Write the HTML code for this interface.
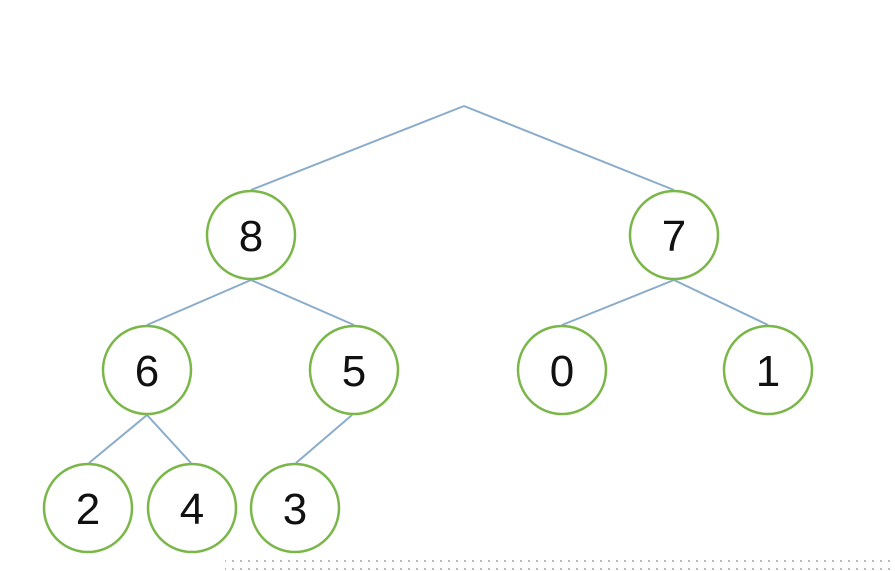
<!DOCTYPE html>
<html><head><style>body{margin:0;background:#fff}svg{display:block}</style></head>
<body>
<svg width="895" height="571" viewBox="0 0 895 571" xmlns="http://www.w3.org/2000/svg">
<g stroke="#8aaccb" stroke-width="2" fill="none">
<line x1="464" y1="106" x2="251" y2="190"/>
<line x1="464" y1="106" x2="674" y2="190"/>
<line x1="251" y1="280" x2="147" y2="325"/>
<line x1="251" y1="280" x2="354" y2="325"/>
<line x1="674" y1="280" x2="562" y2="325"/>
<line x1="674" y1="280" x2="768" y2="325"/>
<line x1="147" y1="415" x2="89" y2="463"/>
<line x1="147" y1="415" x2="191" y2="463"/>
<line x1="352" y1="415" x2="296" y2="463"/>
</g>
<g stroke="#7ab648" stroke-width="2.5" fill="#fff">
<circle cx="251" cy="235" r="44"/><circle cx="674" cy="235" r="44"/>
<circle cx="147" cy="370" r="44"/><circle cx="354" cy="370" r="44"/>
<circle cx="562" cy="370" r="44"/><circle cx="768" cy="370" r="44"/>
<circle cx="88" cy="508" r="44"/><circle cx="192" cy="508" r="44"/><circle cx="295" cy="508" r="44"/>
</g>
<g font-family="Liberation Sans, sans-serif" font-size="44" text-anchor="middle" fill="#111">
<text x="251" y="251">8</text><text x="674" y="251">7</text>
<text x="147" y="386">6</text><text x="354" y="386">5</text>
<text x="562" y="386">0</text><text x="768" y="386">1</text>
<text x="88" y="524">2</text><text x="192" y="524">4</text><text x="295" y="524">3</text>
</g>
<defs><pattern id="d" width="8" height="8" patternUnits="userSpaceOnUse"><rect width="2" height="2" fill="#bbb"/></pattern></defs>
<rect x="225" y="560" width="670" height="11" fill="url(#d)"/>
</svg>
</body></html>
